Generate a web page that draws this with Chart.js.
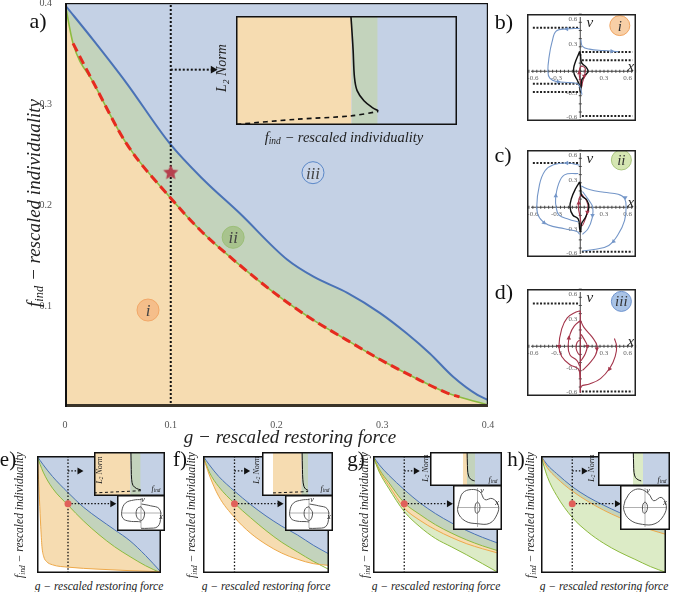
<!DOCTYPE html>
<html>
<head>
<meta charset="utf-8">
<title>Phase diagram</title>
<script src="https://cdn.jsdelivr.net/npm/chart.js@4.4.1/dist/chart.umd.min.js"></script>
<style>
  body { margin: 0; width: 674px; height: 592px; position: relative; overflow: hidden; background: #fff; font-family: "Liberation Serif", serif; }
  canvas { position: absolute; }
  .t { position: absolute; white-space: nowrap; transform: translate(-50%, -50%); font-style: italic; color: #222; line-height: 1; }
  .t sub { font-size: 0.65em; vertical-align: -0.25em; }
</style>
</head>
<body>
<script>
// ---- a) main diagram, boundaries (g, f_ind) ----
const gLower = [0, 0.0076, 0.027, 0.058, 0.099, 0.128, 0.159, 0.203, 0.235, 0.267, 0.298, 0.329, 0.361, 0.373, 0.4];
const fLower = [0.4, 0.36, 0.321, 0.261, 0.208, 0.175, 0.146, 0.109, 0.086, 0.066, 0.047, 0.03, 0.014, 0.01, 0.002];
const gUpper = [0, 0.027, 0.058, 0.099, 0.131, 0.165, 0.21, 0.235, 0.267, 0.298, 0.323, 0.345, 0.367, 0.39, 0.4];
const fUpper = [0.398, 0.363, 0.321, 0.261, 0.225, 0.192, 0.146, 0.129, 0.113, 0.093, 0.073, 0.053, 0.03, 0.012, 0.007];
const xTicks = [0, 0.1, 0.2, 0.3, 0.4];
const yTicks = [0.1, 0.2, 0.3, 0.4];
const regionNames = ['i', 'ii', 'iii'];
const regionG = [0.0785, 0.159, 0.2345];
const regionF = [0.096, 0.168, 0.232];
const starG = [0.1];
const starF = [0.232];
const cutG = [0.1, 0.1];
const cutF = [0, 0.4];
const pointerG = [0.1, 0.14];
const pointerF = [0.334, 0.334];

// inset of a): L2 norm against f_ind (normalised box)
const insetEdges = [0, 0.523, 0.641];
const insetSolidX = [0.52, 0.525, 0.53, 0.536, 0.548, 0.579, 0.617, 0.644];
const insetSolidY = [1.0, 0.85, 0.685, 0.438, 0.315, 0.222, 0.16, 0.13];
const insetDashX = [0.003, 0.276, 0.518, 0.644];
const insetDashY = [0.006, 0.053, 0.083, 0.124];

// ---- b) c) d) phase portraits (x, v) ----
const phaseTicks = [-0.6, -0.3, 0.3, 0.6];
const dotLeft = [-0.6, -0.01];
const dotRight = [0.02, 0.66];
const badgeNames = ['i', 'ii', 'iii'];
const badgeX = [0.5, 0.52, 0.52];
const badgeV = [0.56, 0.58, 0.55];

const bDotV = [0.532, 0.237, 0.136, -0.153, -0.254, -0.549];
const bDotSide = [-1, 1, 1, -1, -1, 1];
const bBlue1X = [-0.007, -0.182, -0.305, -0.358, -0.393, -0.41, -0.386, -0.305, -0.13, -0.025, 0.01, 0.021];
const bBlue1V = [0.525, 0.519, 0.492, 0.356, 0.186, 0, -0.085, -0.125, -0.139, -0.159, -0.237, -0.288];
const bBlue2X = [0.007, 0.028, 0.116, 0.291, 0.484];
const bBlue2V = [0.39, 0.305, 0.271, 0.254, 0.241];
const bBlackX = [-0.007, 0.004, 0.018, 0.074, 0.098, 0.063, 0.021, 0.011, 0, -0.011, -0.042, -0.077, -0.084, -0.06, -0.025, -0.007];
const bBlackV = [0.244, 0.186, 0.102, 0.051, 0, -0.051, -0.102, -0.186, -0.254, -0.169, -0.102, -0.034, 0.034, 0.119, 0.203, 0.244];
const bRedX = [0.018, 0.063, 0.053, 0.028, 0.018, 0, -0.014, -0.007, 0.018];
const bRedV = [0.068, 0.034, -0.051, -0.136, -0.186, -0.119, -0.034, 0.034, 0.068];
const bArrowBlueX = [-0.17, -0.28, 0.4];
const bArrowBlueV = [0.519, -0.128, 0.246];
const bArrowBlueRot = [270, 90, 90];
const bArrowRedX = [0.05, -0.012];
const bArrowRedV = [-0.06, -0.02];
const bArrowRedRot = [180, 0];

const cDotV = [0.542, -0.546];
const cDotSide = [-1, 1];
const cOuterLX = [-0.007, -0.165, -0.34, -0.446, -0.516, -0.551, -0.516, -0.41, -0.2, -0.042, -0.007];
const cOuterLV = [0.515, 0.542, 0.522, 0.447, 0.278, 0, -0.129, -0.214, -0.264, -0.298, -0.332];
const cInnerLX = [-0.025, -0.2, -0.277, -0.312, -0.305, -0.27, -0.147, -0.025];
const cInnerLV = [0.414, 0.397, 0.278, 0.108, 0, -0.095, -0.146, -0.18];
const cOuterRX = [0.011, 0.116, 0.3, 0.48, 0.56, 0.58, 0.56, 0.48, 0.36, 0.17, 0.028];
const cOuterRV = [0.261, 0.217, 0.183, 0.159, 0.108, 0, -0.163, -0.332, -0.468, -0.519, -0.536];
const cInnerRX = [0.028, 0.116, 0.158, 0.151, 0.098, 0.028];
const cInnerRV = [0.193, 0.075, 0, -0.129, -0.264, -0.332];
const cBlackX = [-0.007, -0.06, -0.112, -0.13, -0.095, -0.025, -0.007, 0.004, 0.018, 0.063, 0.109, 0.081, 0.018, 0.004, -0.007];
const cBlackV = [0.312, 0.227, 0.108, 0, -0.095, -0.146, -0.264, -0.298, -0.197, -0.129, 0, 0.092, 0.142, 0.244, 0.312];
const cRedX = [0.018, 0.081, 0.098, 0.063, 0.018, 0, -0.025, -0.014, 0.018];
const cRedV = [0.159, 0.075, -0.01, -0.146, -0.23, -0.129, 0.007, 0.108, 0.159];
const cArrowBlueX = [-0.17, -0.31, -0.46, 0.57, 0.42, 0.155];
const cArrowBlueV = [0.542, 0.14, -0.19, 0.12, -0.42, -0.1];
const cArrowBlueRot = [270, 0, 135, 180, 225, 180];
const cArrowRedX = [0.09, -0.02];
const cArrowRedV = [-0.06, 0.05];
const cArrowRedRot = [180, 0];

const dDotV = [0.525, -0.556];
const dDotSide = [-1, 1];
const d1X = [0.432, 0.46, 0.442, 0.379, 0.256, 0.116, 0.011, 0];
const d1V = [0.095, 0, -0.125, -0.261, -0.397, -0.464, -0.492, -0.566];
const d2X = [0, -0.06, -0.165, -0.235, -0.27, -0.235, -0.13, -0.025, 0];
const d2V = [0.434, 0.417, 0.349, 0.214, 0, -0.125, -0.227, -0.278, -0.397];
const d3X = [0, -0.077, -0.13, -0.154, -0.13, -0.042, -0.007];
const d3V = [0.315, 0.247, 0.146, 0, -0.108, -0.176, -0.244];
const d4X = [-0.007, -0.042, -0.053, -0.025, 0];
const d4V = [0.078, 0.044, -0.024, -0.092, -0.108];
const d5X = [0.004, 0.046, 0.151, 0.214, 0.193, 0.116, 0.028];
const d5V = [0.315, 0.231, 0.112, 0, -0.108, -0.21, -0.295];
const d6X = [0.011, 0.063, 0.088, 0.063, 0.011];
const d6V = [0.146, 0.061, 0, -0.092, -0.176];
const d7X = [0, 0];
const d7V = [0.434, -0.566];
const dArrowX = [-0.27, -0.145, 0.21, 0.37, 0.088];
const dArrowV = [0, 0.1, -0.03, -0.28, 0];
const dArrowRot = [180, 0, 180, 210, 180];

// ---- e) - h) small diagrams ----
const gGrid = [0, 0.02, 0.05, 0.1, 0.15, 0.2, 0.25, 0.3, 0.35, 0.4];
const eBlue = [0.4, 0.37, 0.33, 0.275, 0.225, 0.185, 0.148, 0.11, 0.06, 0.003];
const eGreen = [0.4, 0.345, 0.29, 0.232, 0.178, 0.131, 0.09, 0.056, 0.025, 0];
const eOrangeG = [0, 0.004, 0.008, 0.012, 0.016, 0.022, 0.03, 0.05, 0.1, 0.2, 0.3, 0.4];
const eOrangeF = [0.4, 0.34, 0.25, 0.16, 0.09, 0.055, 0.04, 0.028, 0.02, 0.013, 0.008, 0.004];
const fBlue = [0.4, 0.37, 0.33, 0.28, 0.235, 0.195, 0.16, 0.13, 0.095, 0.065];
const fGreen = [0.4, 0.345, 0.295, 0.238, 0.19, 0.145, 0.105, 0.072, 0.04, 0.012];
const fOrange = [0.4, 0.335, 0.262, 0.19, 0.137, 0.098, 0.068, 0.047, 0.032, 0.026];
const gBlue = [0.4, 0.37, 0.335, 0.285, 0.24, 0.203, 0.172, 0.145, 0.122, 0.102];
const gMid = [0.4, 0.355, 0.31, 0.24, 0.2, 0.165, 0.137, 0.113, 0.093, 0.076];
const gOrange = [0.4, 0.35, 0.3, 0.222, 0.18, 0.148, 0.122, 0.1, 0.083, 0.068];
const gLow = [0.4, 0.345, 0.29, 0.21, 0.158, 0.118, 0.09, 0.062, 0.032, 0.002];
const hBlue = [0.4, 0.37, 0.34, 0.295, 0.26, 0.232, 0.207, 0.185, 0.165, 0.148];
const hOrange = [0.4, 0.36, 0.325, 0.28, 0.245, 0.215, 0.19, 0.168, 0.148, 0.132];
const hLow = [0.4, 0.33, 0.265, 0.19, 0.14, 0.102, 0.072, 0.047, 0.022, 0.002];
const dotG = [0.1];
const dotF = [0.237];
const longArrowG = [0.1, 0.243];
const longArrowF = [0.237, 0.237];
const shortArrowG = [0.1, 0.137];
const shortArrowF = [0.349, 0.349];

// small L2 insets
const eL2Edges = [0, 0.514, 0.657];
const fL2Edges = [0, 0.155, 0.56, 0.648];
const gL2Edges = [0, 0.458, 0.514, 0.625];
const hL2Edges = [0, 0.486, 0.625];
const eL2X = [0.52, 0.525, 0.53, 0.55, 0.6, 0.66];
const eL2Y = [1, 0.6, 0.38, 0.24, 0.17, 0.14];
const fL2X = [0.565, 0.57, 0.575, 0.59, 0.62, 0.65];
const fL2Y = [1, 0.6, 0.38, 0.22, 0.15, 0.13];
const gL2X = [0.515, 0.52, 0.525, 0.545, 0.58, 0.62];
const gL2Y = [1, 0.6, 0.4, 0.25, 0.18, 0.15];
const hL2X = [0.49, 0.495, 0.5, 0.52, 0.56, 0.6];
const hL2Y = [1, 0.62, 0.4, 0.25, 0.18, 0.15];
const eDashX = [0, 0.66];
const eDashY = [0.07, 0.12];
const fDashX = [0.155, 0.65];
const fDashY = [0.07, 0.1];

// small phase insets
const ePhOutX = [0.02, -0.3, -0.65, -0.8, -0.75, -0.5, -0.1, 0];
const ePhOutV = [0.75, 0.72, 0.55, 0.1, -0.3, -0.45, -0.48, -0.5];
const ePhRX = [0.02, 0.4, 0.75, 0.82, 0.7, 0.3, 0];
const ePhRV = [0.5, 0.4, 0.25, -0.2, -0.75, -0.85, -0.85];
const ePhInX = [0, -0.15, -0.2, -0.1, 0.05, 0.15, 0.05, 0];
const ePhInV = [0.35, 0.25, -0.1, -0.35, -0.4, 0, 0.25, 0.35];
const gPhX = [-0.75, -0.6, -0.25, 0.1, 0.3, 0.6, 0.85, 0.8, 0.5, 0, -0.5, -0.8, -0.75];
const gPhV = [0.25, 0.65, 0.8, 0.7, 0.35, 0.4, 0.1, -0.3, -0.7, -0.72, -0.6, -0.2, 0.25];
const gPhInX = [0, -0.08, -0.1, -0.05, 0.05, 0.1, 0.05, 0];
const gPhInV = [0.25, 0.15, -0.1, -0.25, -0.2, 0.05, 0.2, 0.25];
const hPhX = [-0.8, -0.55, -0.2, 0.15, 0.35, 0.65, 0.85, 0.75, 0.4, -0.1, -0.6, -0.85, -0.8];
const hPhV = [0.3, 0.7, 0.82, 0.6, 0.3, 0.45, 0.1, -0.35, -0.72, -0.75, -0.55, -0.1, 0.3];

// colours
const BLUE_BG = '#c4d1e5', GREEN_BG = '#c3d3bc', ORANGE_BG = '#f6dcb1', LIGHT_GREEN = '#dcebc6';
const BLUE_LINE = '#4a72b6', GREEN_LINE = '#8dbb3f', ORANGE_LINE = '#eea94a', RED = '#e62a1e';
const TRAJ_BLUE = '#7496c8', TRAJ_RED = '#a3344a';

const P = (xs, ys) => xs.map((x, i) => ({ x: x, y: ys[i] }));

// background fill + frame round the plot area
const panelPlugin = {
    id: 'panel',
    beforeDraw(chart, args, o) {
        if (!o.bg) return;
        const a = chart.chartArea;
        chart.ctx.save();
        chart.ctx.fillStyle = o.bg;
        chart.ctx.fillRect(a.left, a.top, a.width, a.height);
        chart.ctx.restore();
    },
    afterDraw(chart, args, o) {
        if (!o.frame) return;
        const a = chart.chartArea, ctx = chart.ctx;
        ctx.save();
        ctx.strokeStyle = o.frame;
        ctx.lineWidth = o.width || 1.5;
        const h = ctx.lineWidth / 2;
        ctx.strokeRect(a.left + h, a.top + h, a.width - 2 * h, a.height - 2 * h);
        if (o.bottom) {
            ctx.lineWidth = o.bottom;
            ctx.strokeStyle = '#3a3428';
            ctx.beginPath();
            ctx.moveTo(a.left, a.bottom - o.bottom / 2);
            ctx.lineTo(a.right, a.bottom - o.bottom / 2);
            ctx.stroke();
        }
        if (o.left) {
            ctx.lineWidth = o.left;
            ctx.strokeStyle = '#111';
            ctx.beginPath();
            ctx.moveTo(a.left + o.left / 2, a.top);
            ctx.lineTo(a.left + o.left / 2, a.bottom);
            ctx.stroke();
        }
        ctx.restore();
    }
};

// axes through the origin for the phase portraits
const crossAxes = {
    id: 'crossAxes',
    beforeDatasetsDraw(chart, args, o) {
        if (!o.on && !o.plain) return;
        const ctx = chart.ctx, a = chart.chartArea, sx = chart.scales.x, sy = chart.scales.y;
        const x0 = sx.getPixelForValue(0), y0 = sy.getPixelForValue(0);
        ctx.save();
        ctx.strokeStyle = o.plain ? '#b0b0b0' : '#444';
        ctx.lineWidth = 1;
        ctx.beginPath();
        ctx.moveTo(a.left + 4, y0); ctx.lineTo(a.right - 3, y0);
        ctx.moveTo(x0, a.top + 3); ctx.lineTo(x0, a.bottom - 3);
        if (o.on) {
            for (let k = -13; k <= 14; k++) {
                const px = sx.getPixelForValue(k * 0.05);
                ctx.moveTo(px, y0 - 1.5); ctx.lineTo(px, y0 + 1.5);
            }
            for (let k = -6; k <= 7; k++) {
                const py = sy.getPixelForValue(k * 0.1);
                ctx.moveTo(x0 - 1.5, py); ctx.lineTo(x0 + 1.5, py);
            }
        }
        ctx.stroke();
        if (o.on) {
            ctx.fillStyle = '#666';
            ctx.font = '7px "Liberation Serif"';
            ctx.textAlign = 'center';
            ctx.textBaseline = 'top';
            phaseTicks.forEach(t => ctx.fillText(String(t), sx.getPixelForValue(t), y0 + 3));
            ctx.textAlign = 'right';
            ctx.textBaseline = 'middle';
            phaseTicks.forEach(t => ctx.fillText(String(t), x0 - 3, sy.getPixelForValue(t) - 3));
        }
        ctx.restore();
    }
};
Chart.register(panelPlugin, crossAxes);

function canvasAt(x, y, w, h) {
    const c = document.createElement('canvas');
    c.width = w; c.height = h;
    c.style.left = x + 'px'; c.style.top = y + 'px';
    c.style.width = w + 'px'; c.style.height = h + 'px';
    document.body.appendChild(c);
    return c;
}

function txt(html, x, y, size, extra) {
    const d = document.createElement('div');
    d.className = 't';
    d.innerHTML = html;
    d.style.left = x + 'px';
    d.style.top = y + 'px';
    d.style.fontSize = size + 'px';
    extra = extra || {};
    if (extra.rot) d.style.transform = 'translate(-50%, -50%) rotate(-90deg)';
    if (extra.normal) d.style.fontStyle = 'normal';
    if (extra.color) d.style.color = extra.color;
    document.body.appendChild(d);
}

function baseOpts(xr, yr, panel, extra) {
    return {
        responsive: false, animation: false, events: [], devicePixelRatio: 1,
        layout: { padding: 0 },
        plugins: Object.assign({
            legend: { display: false }, tooltip: { enabled: false },
            filler: { drawTime: 'beforeDatasetsDraw' }, panel: panel
        }, extra || {}),
        scales: {
            x: { type: 'linear', display: false, min: xr[0], max: xr[1] },
            y: { type: 'linear', display: false, min: yr[0], max: yr[1] }
        }
    };
}

function starImage(r, color) {
    const c = document.createElement('canvas');
    c.width = c.height = 2 * r + 2;
    const ctx = c.getContext('2d');
    ctx.fillStyle = color;
    ctx.beginPath();
    for (let k = 0; k < 10; k++) {
        const rr = k % 2 ? r * 0.48 : r;
        const ang = -Math.PI / 2 + k * Math.PI / 5;
        ctx.lineTo(r + 1 + rr * Math.cos(ang), r + 1 + rr * Math.sin(ang));
    }
    ctx.closePath();
    ctx.fill();
    return c;
}

const tickFont = { family: 'Liberation Serif', size: 10 };

// ---------- a) ----------
const mainChart = new Chart(canvasAt(0, -10, 500, 455), {
    type: 'line',
    data: {
        datasets: [
            { data: P(starG, starF), showLine: false, pointStyle: starImage(8, '#b5404e'), pointRadius: 8 },
            {
                data: P(regionG, regionF), showLine: false, pointRadius: 11, pointBorderWidth: 1,
                pointBackgroundColor: ['rgba(244,165,105,0.55)', 'rgba(150,185,110,0.6)', 'rgba(205,218,238,0.5)'],
                pointBorderColor: ['#f2a868', '#9cbf78', '#5b88c8']
            },
            { data: P(gLower.slice(1, 14), fLower.slice(1, 14)), borderColor: RED, borderWidth: 3, borderDash: [9, 5], pointRadius: 0, cubicInterpolationMode: 'monotone' },
            { data: P(cutG, cutF), borderColor: '#111', borderWidth: 2, borderDash: [2, 2], pointRadius: 0 },
            {
                data: P(pointerG, pointerF), borderColor: '#111', borderWidth: 2, borderDash: [2, 2],
                pointRadius: [0, 4.5], pointStyle: 'triangle', pointRotation: 90, pointBackgroundColor: '#111', pointBorderWidth: 0
            },
            { data: P(gLower, fLower), borderColor: GREEN_LINE, borderWidth: 1.6, pointRadius: 0, fill: 'start', backgroundColor: ORANGE_BG, cubicInterpolationMode: 'monotone' },
            { data: P(gUpper, fUpper), borderColor: BLUE_LINE, borderWidth: 2, pointRadius: 0, fill: 'start', backgroundColor: GREEN_BG, cubicInterpolationMode: 'monotone' }
        ]
    },
    options: {
        responsive: false, animation: false, events: [], devicePixelRatio: 1,
        layout: { padding: { left: 0, top: 13, right: 12, bottom: 0 } },
        plugins: {
            legend: { display: false }, tooltip: { enabled: false },
            filler: { drawTime: 'beforeDatasetsDraw' },
            panel: { bg: BLUE_BG, frame: '#111', width: 1.2, bottom: 3, left: 2 }
        },
        scales: {
            x: {
                type: 'linear', min: 0, max: 0.4,
                afterBuildTicks: s => { s.ticks = xTicks.map(v => ({ value: v })); },
                afterFit: s => { s.height = 38; },
                border: { display: false }, grid: { display: false },
                ticks: { padding: 4, color: '#555', font: tickFont, maxRotation: 0, autoSkip: false, callback: v => v === 0 ? '0' : v.toFixed(1) }
            },
            y: {
                type: 'linear', min: 0, max: 0.4,
                afterBuildTicks: s => { s.ticks = yTicks.map(v => ({ value: v })); },
                afterFit: s => { s.width = 65; },
                border: { display: false }, grid: { display: false },
                ticks: { padding: 5, color: '#555', font: tickFont, autoSkip: false, callback: v => v.toFixed(1) }
            }
        }
    }
});

// inset of a)
function l2Chart(x, y, w, h, edges, colors, solidX, solidY, dashX, dashY, lw) {
    const ds = [{ data: P(solidX, solidY), borderColor: '#111', borderWidth: lw, pointRadius: 0, tension: 0.35 }];
    if (dashX) ds.push({ data: P(dashX, dashY), borderColor: '#111', borderWidth: lw, borderDash: [lw * 3, lw * 2.5], pointRadius: 0, tension: 0.3 });
    colors.forEach((c, k) => ds.push({
        data: P([edges[k], edges[k + 1]], [1, 1]), borderColor: 'transparent', borderWidth: 0,
        pointRadius: 0, fill: 'start', backgroundColor: c
    }));
    return new Chart(canvasAt(x, y, w, h), {
        type: 'line', data: { datasets: ds },
        options: baseOpts([0, 1], [0, 1], { bg: BLUE_BG, frame: '#111', width: 1.5 })
    });
}
l2Chart(236, 16, 221, 109, insetEdges, [ORANGE_BG, GREEN_BG], insetSolidX, insetSolidY, insetDashX, insetDashY, 1.6);

// ---------- b) c) d) ----------
function phaseChart(top, trajs, arrows, dotV, dotSide, idx, badgeFill, badgeLine) {
    const ds = [{
        data: [{ x: badgeX[idx], y: badgeV[idx] }], showLine: false, pointRadius: 10,
        pointBackgroundColor: badgeFill, pointBorderColor: badgeLine, pointBorderWidth: 1
    }];
    arrows.forEach(ar => ds.push({
        data: P(ar.xs, ar.vs), showLine: false, pointStyle: 'triangle', pointRadius: 2.6,
        pointRotation: ar.rot, pointBackgroundColor: ar.color, pointBorderColor: ar.color, pointBorderWidth: 0
    }));
    trajs.forEach(t => ds.push({ data: P(t.xs, t.vs), borderColor: t.color, borderWidth: t.w || 1.1, pointRadius: 0, tension: 0.4 }));
    dotV.forEach((v, i) => ds.push({
        data: P(dotSide[i] < 0 ? dotLeft : dotRight, [v, v]), borderColor: '#222', borderWidth: 2,
        borderDash: [2, 1.6], pointRadius: 0
    }));
    const ch = new Chart(canvasAt(516, top, 131, 129), {
        type: 'line', data: { datasets: ds },
        options: baseOpts([-0.674, 0.705], [-0.61, 0.702], { bg: '#fff', frame: '#222', width: 1.5 }, { crossAxes: { on: true } })
    });
    const sx = ch.scales.x, sy = ch.scales.y;
    txt('v', 516 + sx.getPixelForValue(0.12), top + sy.getPixelForValue(0.6), 15);
    txt('x', 516 + sx.getPixelForValue(0.64), top + sy.getPixelForValue(0.06), 15);
    txt(badgeNames[idx], 516 + sx.getPixelForValue(badgeX[idx]), top + sy.getPixelForValue(badgeV[idx]), 15, { color: '#333' });
    return ch;
}

phaseChart(3, [
    { xs: bBlue1X, vs: bBlue1V, color: TRAJ_BLUE },
    { xs: bBlue2X, vs: bBlue2V, color: TRAJ_BLUE },
    { xs: bBlackX, vs: bBlackV, color: '#111', w: 1.4 },
    { xs: bRedX, vs: bRedV, color: TRAJ_RED }
], [
    { xs: bArrowBlueX, vs: bArrowBlueV, rot: bArrowBlueRot, color: TRAJ_BLUE },
    { xs: bArrowRedX, vs: bArrowRedV, rot: bArrowRedRot, color: TRAJ_RED }
], bDotV, bDotSide, 0, '#f8cfa6', '#f0a460');

phaseChart(139, [
    { xs: cOuterLX, vs: cOuterLV, color: TRAJ_BLUE },
    { xs: cInnerLX, vs: cInnerLV, color: TRAJ_BLUE },
    { xs: cOuterRX, vs: cOuterRV, color: TRAJ_BLUE },
    { xs: cInnerRX, vs: cInnerRV, color: TRAJ_BLUE },
    { xs: cBlackX, vs: cBlackV, color: '#111', w: 1.4 },
    { xs: cRedX, vs: cRedV, color: TRAJ_RED }
], [
    { xs: cArrowBlueX, vs: cArrowBlueV, rot: cArrowBlueRot, color: TRAJ_BLUE },
    { xs: cArrowRedX, vs: cArrowRedV, rot: cArrowRedRot, color: TRAJ_RED }
], cDotV, cDotSide, 1, '#d5e6b2', '#a9c67e');

phaseChart(278, [
    { xs: d1X, vs: d1V, color: TRAJ_RED },
    { xs: d2X, vs: d2V, color: TRAJ_RED },
    { xs: d3X, vs: d3V, color: TRAJ_RED },
    { xs: d4X, vs: d4V, color: TRAJ_RED },
    { xs: d5X, vs: d5V, color: TRAJ_RED },
    { xs: d6X, vs: d6V, color: TRAJ_RED },
    { xs: d7X, vs: d7V, color: TRAJ_RED }
], [
    { xs: dArrowX, vs: dArrowV, rot: dArrowRot, color: TRAJ_RED }
], dDotV, dDotSide, 2, '#a9c3e6', '#6d93cf');

// ---------- e) - h) ----------
function mapChart(left, width, layers) {
    const ds = [
        { data: P(dotG, dotF), showLine: false, pointRadius: 3.5, pointBackgroundColor: '#e0605a', pointBorderWidth: 0 },
        { data: P(cutG, cutF), borderColor: '#111', borderWidth: 1.3, borderDash: [1.5, 1.8], pointRadius: 0 },
        {
            data: P(longArrowG, longArrowF), borderColor: '#111', borderWidth: 1.3, borderDash: [1.5, 1.8],
            pointRadius: [0, 4], pointStyle: 'triangle', pointRotation: 90, pointBackgroundColor: '#111', pointBorderWidth: 0
        },
        {
            data: P(shortArrowG, shortArrowF), borderColor: '#111', borderWidth: 1.3, borderDash: [1.5, 1.8],
            pointRadius: [0, 4], pointStyle: 'triangle', pointRotation: 90, pointBackgroundColor: '#111', pointBorderWidth: 0
        }
    ];
    // layers are given bottom first, so the lowest fill is painted last
    layers.forEach(l => ds.push({
        data: P(l.xs, l.ys), borderColor: l.line, borderWidth: 1, pointRadius: 0,
        fill: 'start', backgroundColor: l.fill, cubicInterpolationMode: 'monotone'
    }));
    return new Chart(canvasAt(left, 452, width, 125), {
        type: 'line', data: { datasets: ds },
        options: baseOpts([0, 0.4], [0, 0.4], { bg: BLUE_BG, frame: '#111', width: 1.5 })
    });
}

function miniPhase(x, y, w, h, trajs) {
    const ds = trajs.map(t => ({ data: P(t[0], t[1]), borderColor: '#555', borderWidth: 1, pointRadius: 0, tension: 0.4 }));
    return new Chart(canvasAt(x, y, w, h), {
        type: 'line', data: { datasets: ds },
        options: baseOpts([-1, 1], [-1, 1], { bg: '#fff', frame: '#111', width: 1.5 }, { crossAxes: { plain: true } })
    });
}

mapChart(33, 132, [
    { xs: eOrangeG, ys: eOrangeF, line: ORANGE_LINE, fill: '#ffffff' },
    { xs: gGrid, ys: eGreen, line: GREEN_LINE, fill: ORANGE_BG },
    { xs: gGrid, ys: eBlue, line: BLUE_LINE, fill: GREEN_BG }
]);
mapChart(199, 134, [
    { xs: gGrid, ys: fOrange, line: ORANGE_LINE, fill: '#ffffff' },
    { xs: gGrid, ys: fGreen, line: GREEN_LINE, fill: ORANGE_BG },
    { xs: gGrid, ys: fBlue, line: BLUE_LINE, fill: GREEN_BG }
]);
mapChart(369, 133, [
    { xs: gGrid, ys: gLow, line: GREEN_LINE, fill: '#ffffff' },
    { xs: gGrid, ys: gOrange, line: ORANGE_LINE, fill: LIGHT_GREEN },
    { xs: gGrid, ys: gMid, line: GREEN_LINE, fill: ORANGE_BG },
    { xs: gGrid, ys: gBlue, line: BLUE_LINE, fill: GREEN_BG }
]);
mapChart(537, 133, [
    { xs: gGrid, ys: hLow, line: GREEN_LINE, fill: '#ffffff' },
    { xs: gGrid, ys: hOrange, line: ORANGE_LINE, fill: LIGHT_GREEN },
    { xs: gGrid, ys: hBlue, line: BLUE_LINE, fill: GREEN_BG }
]);

l2Chart(94, 452, 71, 44, eL2Edges, [ORANGE_BG, GREEN_BG], eL2X, eL2Y, eDashX, eDashY, 1);
l2Chart(262, 452, 71, 44, fL2Edges, ['#ffffff', ORANGE_BG, GREEN_BG], fL2X, fL2Y, fDashX, fDashY, 1);
l2Chart(430, 452, 72, 34, gL2Edges, ['#ffffff', ORANGE_BG, GREEN_BG], gL2X, gL2Y, null, null, 1);
l2Chart(598, 452, 72, 34, hL2Edges, ['#ffffff', LIGHT_GREEN], hL2X, hL2Y, null, null, 1);

miniPhase(117, 495, 48, 36, [[ePhOutX, ePhOutV], [ePhRX, ePhRV], [ePhInX, ePhInV]]);
miniPhase(285, 495, 48, 36, [[ePhOutX, ePhOutV], [ePhRX, ePhRV], [ePhInX, ePhInV]]);
miniPhase(453, 485, 49, 45, [[gPhX, gPhV], [gPhInX, gPhInV]]);
miniPhase(620, 485, 50, 45, [[hPhX, hPhV], [gPhInX, gPhInV]]);

// ---------- texts ----------
const fTitle = 'f<sub>ind</sub> &minus; rescaled individuality';
const gTitle = 'g &minus; rescaled restoring force';

txt('a)', 38, 21, 22, { normal: true, color: '#111' });
txt('b)', 504, 22, 22, { normal: true, color: '#111' });
txt('c)', 503, 155, 22, { normal: true, color: '#111' });
txt('d)', 504, 292, 22, { normal: true, color: '#111' });
txt('e)', 8, 459, 21, { normal: true, color: '#111' });
txt('f)', 180, 459, 21, { normal: true, color: '#111' });
txt('g)', 356, 459, 21, { normal: true, color: '#111' });
txt('h)', 516, 459, 21, { normal: true, color: '#111' });

txt(gTitle, 290, 436, 19);
txt(fTitle, 35, 203, 19, { rot: true });
txt(fTitle, 344, 138, 14.5);
txt('L<sub>2</sub> Norm', 223, 68, 14, { rot: true });

regionNames.forEach((n, i) => {
    txt(n, mainChart.scales.x.getPixelForValue(regionG[i]), mainChart.scales.y.getPixelForValue(regionF[i]) - 10, 17, { color: '#444' });
});

[[99, 20], [266, 192], [436, 365], [604, 531]].forEach(p => {
    txt(gTitle, p[0], 587, 11.5);
    txt(fTitle, p[1], 515, 11.5, { rot: true });
});

[[100, 470, 156, 489], [257, 470, 325, 489], [426, 468, 493, 480], [592, 468, 662, 480]].forEach(p => {
    txt('L<sub>2</sub> Norm', p[0], p[1], 8, { rot: true });
    txt('f<sub>ind</sub>', p[2], p[3], 8);
});
[[143, 500, 161, 517], [312, 500, 329, 517], [482, 491, 497, 503], [648, 491, 665, 503]].forEach(p => {
    txt('v', p[0], p[1], 8);
    txt('x', p[2], p[3], 8);
});
</script>
</body>
</html>
